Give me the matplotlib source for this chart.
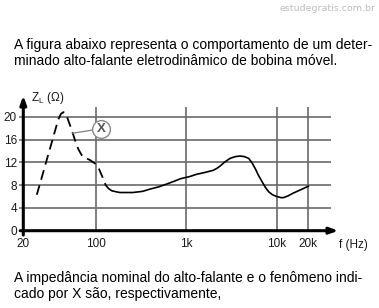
import numpy as np
import matplotlib
matplotlib.use("Agg")
import matplotlib.pyplot as plt

plt.rcParams['font.family'] = ['Liberation Sans', 'DejaVu Sans']

# ---- data ----
dash_f = [27, 43.5, 46.2, 48.7, 51, 52.8, 58.6, 65.5, 68, 73, 77, 88, 100, 109, 120.5, 129]
dash_z = [6.3, 19.5, 20.5, 20.8, 20.6, 20.0, 17.7, 15.0, 14.3, 13.3, 12.9, 12.4, 11.7, 10.8, 9.2, 8.0]
solid_f = [129, 138.6, 151, 172, 186, 257, 330, 400, 500, 615, 760, 860, 1000, 1100,
           1310, 1600, 2000, 2200, 2380, 2700, 3070, 3500, 3950, 4400, 4900, 5300,
           5800, 6300, 6900, 7500, 8200, 9000, 10000, 11000, 11600, 12800, 14400,
           17000, 20000]
solid_z = [8.0, 7.4, 7.0, 6.8, 6.7, 6.7, 6.9, 7.3, 7.7, 8.2, 8.75, 9.1, 9.35, 9.5,
           9.9, 10.2, 10.6, 10.95, 11.35, 12.1, 12.7, 13.0, 13.1, 13.0, 12.7, 12.0,
           10.9, 9.7, 8.6, 7.6, 6.8, 6.3, 6.0, 5.8, 5.8, 6.1, 6.6,
           7.2, 7.8]
x_ticks = [20, 100, 1000, 10000, 20000]
x_labels = ['20', '100', '1k', '10k', '20k']
y_ticks = [0, 4, 8, 12, 16, 20]
marker_label = 'X'
text_top = ["A figura abaixo representa o comportamento de um deter-",
            "minado alto-falante eletrodinâmico de bobina móvel."]
text_bottom = ["A impedância nominal do alto-falante e o fenômeno indi-",
               "cado por X são, respectivamente,"]

# piecewise-log axis as drawn in the original
L = [np.log10(20) - 1, np.log10(20), 2, 3, 4, np.log10(20000), np.log10(20000) + 1]
P = [-103.6, 0, 72.4, 162.7, 253.4, 285, 390]

def fwd(f):
    f = np.asarray(f, dtype=float)
    return np.interp(np.log10(np.maximum(f, 1e-3)), L, P)

def inv(p):
    return 10 ** np.interp(np.asarray(p, dtype=float), P, L)

W, H = 379, 308
fig = plt.figure(figsize=(W / 100, H / 100), dpi=100)
ax = fig.add_axes([23.3 / W, (H - 230.7) / H, 307.4 / W, 123.4 / H])
ax.set_xscale('function', functions=(fwd, inv))
ax.set_xlim(20, float(inv(307.4)))
ax.set_ylim(0, 21.65)

grid_c = '#6a6a6a'
for yv in y_ticks[1:]:
    ax.axhline(yv, color=grid_c, lw=1.2, zorder=1)
for xv in x_ticks[1:]:
    ax.axvline(xv, color=grid_c, lw=1.2, zorder=1)

ax.plot(dash_f, dash_z, color='black', lw=1.3, ls=(0, (5.5, 3.2)), zorder=3,
        solid_joinstyle='round')
ax.plot(solid_f, solid_z, color='black', lw=1.2, zorder=3, solid_joinstyle='round')

# X marker with leader line
ax.plot([60, 114.6], [17.1, 17.9], color='#808080', lw=0.9, zorder=4)
ax.plot([114.6], [17.9], 'o', ms=12.8, mfc='white', mec='#8a8a8a', mew=1.0, zorder=5)
ax.text(114.6, 17.8, marker_label, ha='center', va='center', fontsize=9.5,
        fontweight='bold', color='#555555', zorder=6)

for s in ax.spines.values():
    s.set_visible(False)
ax.annotate('', xy=(0, 1.095), xytext=(0, -0.035), xycoords='axes fraction',
            arrowprops=dict(arrowstyle='-|>,head_length=0.5,head_width=0.18',
                            color='black', lw=2.2, shrinkA=0, shrinkB=0), annotation_clip=False)
ax.annotate('', xy=(1.025, 0), xytext=(-0.01, 0), xycoords='axes fraction',
            arrowprops=dict(arrowstyle='-|>,head_length=0.5,head_width=0.18',
                            color='black', lw=2.2, shrinkA=0, shrinkB=0), annotation_clip=False)

ax.set_xticks(x_ticks)
ax.set_xticklabels(x_labels)
ax.set_yticks(y_ticks)
ax.tick_params(axis='x', length=0, pad=5, labelsize=8.5, labelcolor='#1a1a1a')
ax.tick_params(axis='y', length=3, width=1.1, color=grid_c, pad=1.5, labelsize=8.5,
               labelcolor='#1a1a1a')
ax.minorticks_off()

fig.text(339 / W, 1 - 248 / H, 'f (Hz)', fontsize=8.5, color='#1a1a1a', va='baseline')
fig.text(31 / W, 1 - 101 / H, r'Z$_{\mathregular{L}}$ (Ω)', fontsize=8.5, color='#1a1a1a', va='baseline')

fs = 10.0
fig.text(14 / W, 1 - 49 / H, text_top[0], fontsize=fs, color='black', va='baseline')
fig.text(14 / W, 1 - 65 / H, text_top[1], fontsize=fs, color='black', va='baseline')
fig.text(14 / W, 1 - 282 / H, text_bottom[0], fontsize=fs, color='black', va='baseline')
fig.text(14 / W, 1 - 298 / H, text_bottom[1], fontsize=fs, color='black', va='baseline')
fig.text(376 / W, 1 - 11 / H, 'estudegratis.com.br', fontsize=6.8, color='#bdbdbd',
         ha='right', va='baseline', family='DejaVu Sans')

fig.savefig('out.png', dpi=100)
